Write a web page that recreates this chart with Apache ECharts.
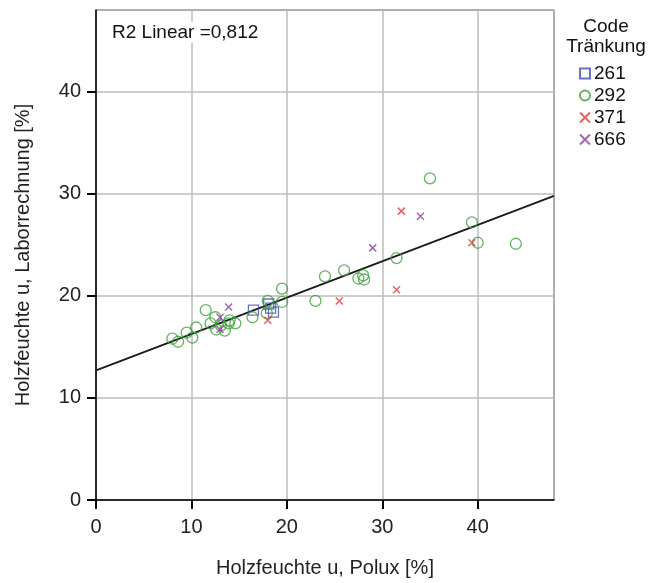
<!DOCTYPE html>
<html>
<head>
<meta charset="utf-8">
<script src="https://cdn.jsdelivr.net/npm/echarts@6/dist/echarts.min.js"></script>
<style>
	html, body { margin: 0; padding: 0; background: #fff; }
	#chart_box { width: 664px; height: 583px; }
</style>
</head>
<body>
<div id="chart_box"></div>
<script>
/* Messwerte [Polux, Labor] je Code Tränkung */
var codes = ['261', '292', '371', '666'];
var data261 = [[16.5, 18.6], [18.1, 19.2], [18.3, 18.8], [18.6, 18.4]];
var data292 = [
	[8.0, 15.8], [8.6, 15.5], [9.5, 16.4], [10.1, 15.9], [10.5, 16.9],
	[11.5, 18.6], [12.0, 17.3], [12.5, 17.9], [12.6, 16.7], [13.1, 17.1],
	[13.5, 16.6], [13.9, 17.3], [14.0, 17.6], [14.6, 17.3], [16.4, 17.9],
	[17.9, 18.3], [18.0, 19.5], [19.5, 20.7], [19.5, 19.4], [23.0, 19.5],
	[24.0, 21.9], [26.0, 22.5], [27.5, 21.7], [28.0, 22.0], [28.1, 21.6],
	[31.5, 23.7], [35.0, 31.5], [39.4, 27.2], [40.0, 25.2], [44.0, 25.1]
];
var data371 = [[18.0, 17.6], [25.5, 19.5], [31.5, 20.6], [32.0, 28.3], [39.4, 25.2]];
var data666 = [[13.0, 17.9], [13.0, 16.7], [13.9, 18.9], [29.0, 24.7], [34.0, 27.8]];
/* Regressionsgerade */
var fitLine = [[0, 12.7], [48, 29.8]];
var r2Text = 'R2 Linear =0,812';

var crossPath = 'path://M0,0L10,10M10,0L0,10';
var fontName = 'Liberation Sans, Arial, sans-serif';

var myChart = echarts.init(document.getElementById('chart_box'));
var option = {
	animation: false,
	backgroundColor: '#fff',
	textStyle: { fontFamily: fontName },
	grid: {
		left: 96, right: 110, top: 10, bottom: 83,
		show: true, borderColor: '#000', borderWidth: 1
	},
	graphic: [{
		type: 'text', x: 110, y: 22, z: 10,
		style: {
			text: r2Text, fontSize: 19, fill: '#111',
			backgroundColor: '#fff', padding: [1, 2],
			fontFamily: fontName
		}
	}, {
		type: 'text', x: 606, y: 17, z: 10,
		style: {
			text: 'Code\nTränkung', fontSize: 19, fill: '#111', align: 'center',
			lineHeight: 20, fontFamily: fontName
		}
	}],
	legend: {
		orient: 'vertical', left: 574, top: 59,
		itemWidth: 10, itemHeight: 10, itemGap: 3,
		textStyle: { fontSize: 19, color: '#111', padding: [0, 0, 0, -1] },
		data: codes
	},
	xAxis: {
		type: 'value', min: 0, max: 48, interval: 10,
		name: 'Holzfeuchte u, Polux [%]', nameLocation: 'middle', nameGap: 58,
		nameTextStyle: { fontSize: 20, color: '#222' },
		axisLine: { lineStyle: { color: '#000', width: 1.5 } },
		axisTick: { show: true, length: 9, lineStyle: { color: '#000', width: 2 } },
		axisLabel: { fontSize: 20, color: '#222', margin: 17, showMaxLabel: false },
		splitLine: { lineStyle: { color: '#bdbdbd', width: 1.5 } }
	},
	yAxis: {
		type: 'value', min: 0, max: 48, interval: 10,
		name: 'Holzfeuchte u, Laborrechnung [%]', nameLocation: 'middle', nameGap: 63,
		nameTextStyle: { fontSize: 20, color: '#222' },
		axisLine: { show: true, lineStyle: { color: '#000', width: 1.5 } },
		axisTick: { show: true, length: 9, lineStyle: { color: '#000', width: 2 } },
		axisLabel: { fontSize: 20, color: '#222', margin: 15, showMaxLabel: false },
		splitLine: { lineStyle: { color: '#bdbdbd', width: 1.5 } }
	},
	series: [{
		name: 'Fit', type: 'line', data: fitLine, symbol: 'none', z: 1,
		lineStyle: { color: '#1a1a1a', width: 1.8 }, silent: true
	}, {
		name: '261', type: 'scatter', data: data261, symbol: 'rect', symbolSize: 10, z: 3,
		itemStyle: { color: 'rgba(0,0,0,0)', borderColor: '#4050b0', borderWidth: 1.3 }
	}, {
		name: '292', type: 'scatter', data: data292, symbol: 'circle', symbolSize: 11, z: 3,
		itemStyle: { color: 'rgba(0,0,0,0)', borderColor: '#3ca03c', borderWidth: 1.3 }
	}, {
		name: '371', type: 'scatter', data: data371, symbol: crossPath, symbolSize: 7, z: 3,
		itemStyle: { color: 'rgba(0,0,0,0)', borderColor: '#e03a3a', borderWidth: 1.5 }
	}, {
		name: '666', type: 'scatter', data: data666, symbol: crossPath, symbolSize: 7, z: 3,
		itemStyle: { color: 'rgba(0,0,0,0)', borderColor: '#8a3f9f', borderWidth: 1.5 }
	}]
};
myChart.setOption(option);
</script>
</body>
</html>
